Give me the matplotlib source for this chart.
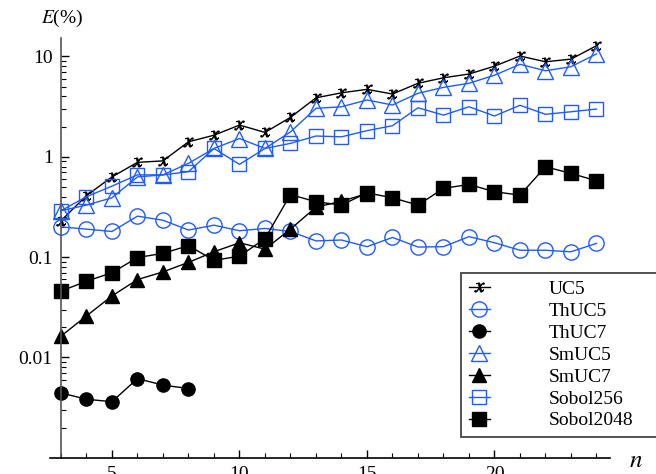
import numpy as np
import matplotlib.pyplot as plt
from matplotlib.ticker import LogLocator, NullFormatter, FixedLocator, MultipleLocator

plt.rcParams['font.family'] = ['Liberation Serif', 'DejaVu Serif']
plt.rcParams['mathtext.fontset'] = 'stix'

# values (E in %)
n_all = list(range(3, 25))
uc5 = [0.23, 0.41, 0.63, 0.88, 0.91, 1.41, 1.64, 2.07, 1.75, 2.47, 3.87, 4.34, 4.7,
       4.22, 5.4, 6.13, 6.68, 8.0, 10.1, 8.85, 9.4, 12.8]
thuc5 = [0.20, 0.19, 0.18, 0.256, 0.233, 0.186, 0.208, 0.183, 0.193, 0.18, 0.145, 0.148,
         0.127, 0.157, 0.126, 0.127, 0.16, 0.139, 0.117, 0.117, 0.113, 0.137]
n_thuc7 = [3, 4, 5, 6, 7, 8]
thuc7 = [0.00443, 0.00383, 0.00362, 0.00615, 0.0053, 0.0049]
smuc5 = [0.29, 0.33, 0.39, 0.63, 0.66, 0.86, 1.21, 1.52, 1.21, 1.77, 3.04, 3.15, 3.68,
         3.28, 4.29, 4.92, 5.4, 6.5, 8.35, 7.2, 7.9, 10.6]
n_smuc7 = list(range(3, 16))
smuc7 = [0.0163, 0.0259, 0.041, 0.0597, 0.0712, 0.0886, 0.113, 0.139, 0.12, 0.19,
         0.315, 0.36, 0.43]
sobol256 = [0.29, 0.40, 0.51, 0.66, 0.66, 0.71, 1.21, 0.84, 1.21, 1.36, 1.61, 1.58, 1.82,
            2.04, 3.08, 2.6, 3.15, 2.55, 3.26, 2.65, 2.81, 2.99]
sobol2048 = [0.0458, 0.0575, 0.0698, 0.099, 0.109, 0.130, 0.093, 0.102, 0.153, 0.42,
             0.356, 0.33, 0.437, 0.39, 0.33, 0.484, 0.53, 0.448, 0.415, 0.795, 0.683, 0.576]

blue = '#1f5bff'

fig = plt.figure(figsize=(6.56, 4.74), dpi=100)
ax = fig.add_axes([0.0762, 0.0338, 0.8537, 0.8862])

ax.plot(n_all, uc5, color='black', lw=1.0, marker='$x$', ms=7, mec='black', mew=0.6,
        label='UC5')
ax.plot(n_all, thuc5, color=blue, lw=1.0, marker='o', ms=11, mfc='none', mec=blue,
        mew=1, label='ThUC5')
ax.plot(n_thuc7, thuc7, color='black', lw=1.0, marker='o', ms=9.5, mfc='black',
        mec='black', label='ThUC7')
ax.plot(n_all, smuc5, color=blue, lw=1.0, marker='^', ms=11, mfc='none', mec=blue,
        mew=1, label='SmUC5')
ax.plot(n_smuc7, smuc7, color='black', lw=1.0, marker='^', ms=10, mfc='black',
        mec='black', label='SmUC7')
ax.plot(n_all, sobol256, color=blue, lw=1.0, marker='s', ms=10, mfc='none', mec=blue,
        mew=1, label='Sobol256')
ax.plot(n_all, sobol2048, color='black', lw=1.0, marker='s', ms=9.5, mfc='black',
        mec='black', label='Sobol2048')

ax.set_yscale('log')
ax.set_xlim(2.57, 24.53)
ax.set_ylim(0.000995, 15.3)

for s in ['top', 'right']:
    ax.spines[s].set_visible(False)
ax.spines['left'].set_position(('data', 3))
ax.spines['left'].set_color('#555555')
ax.spines['left'].set_linewidth(1.2)
ax.spines['bottom'].set_linewidth(1.2)

ax.set_yticks([0.01, 0.1, 1, 10])
ax.set_yticklabels(['0.01', '0.1', '1', '10'])
ax.yaxis.set_minor_locator(LogLocator(base=10, subs=np.arange(2, 10)))
ax.yaxis.set_minor_formatter(NullFormatter())
ax.xaxis.set_major_locator(FixedLocator([5, 10, 15, 20]))
ax.xaxis.set_minor_locator(MultipleLocator(1))

ax.tick_params(axis='both', which='major', direction='in', length=6, width=1,
               labelsize=14, pad=6)
ax.tick_params(axis='both', which='minor', direction='in', length=3.5, width=0.8)

fig.text(0.062, 0.962, r'$E$(%)', fontsize=14, ha='left', va='center')
fig.text(0.97, 0.028, r'$n$', fontsize=18, ha='center', va='center')

leg = ax.legend(loc='upper left', bbox_to_anchor=(0.7027, 0.079, 0.32, 0.3457),
                bbox_transform=fig.transFigure, mode='expand', borderaxespad=0,
                fancybox=False, edgecolor='#444444', fontsize=14, handlelength=1.1,
                handletextpad=3.0, labelspacing=0.22, borderpad=0.4, framealpha=1)
leg.get_frame().set_linewidth(1.3)

fig.savefig('out.png', dpi=100)
